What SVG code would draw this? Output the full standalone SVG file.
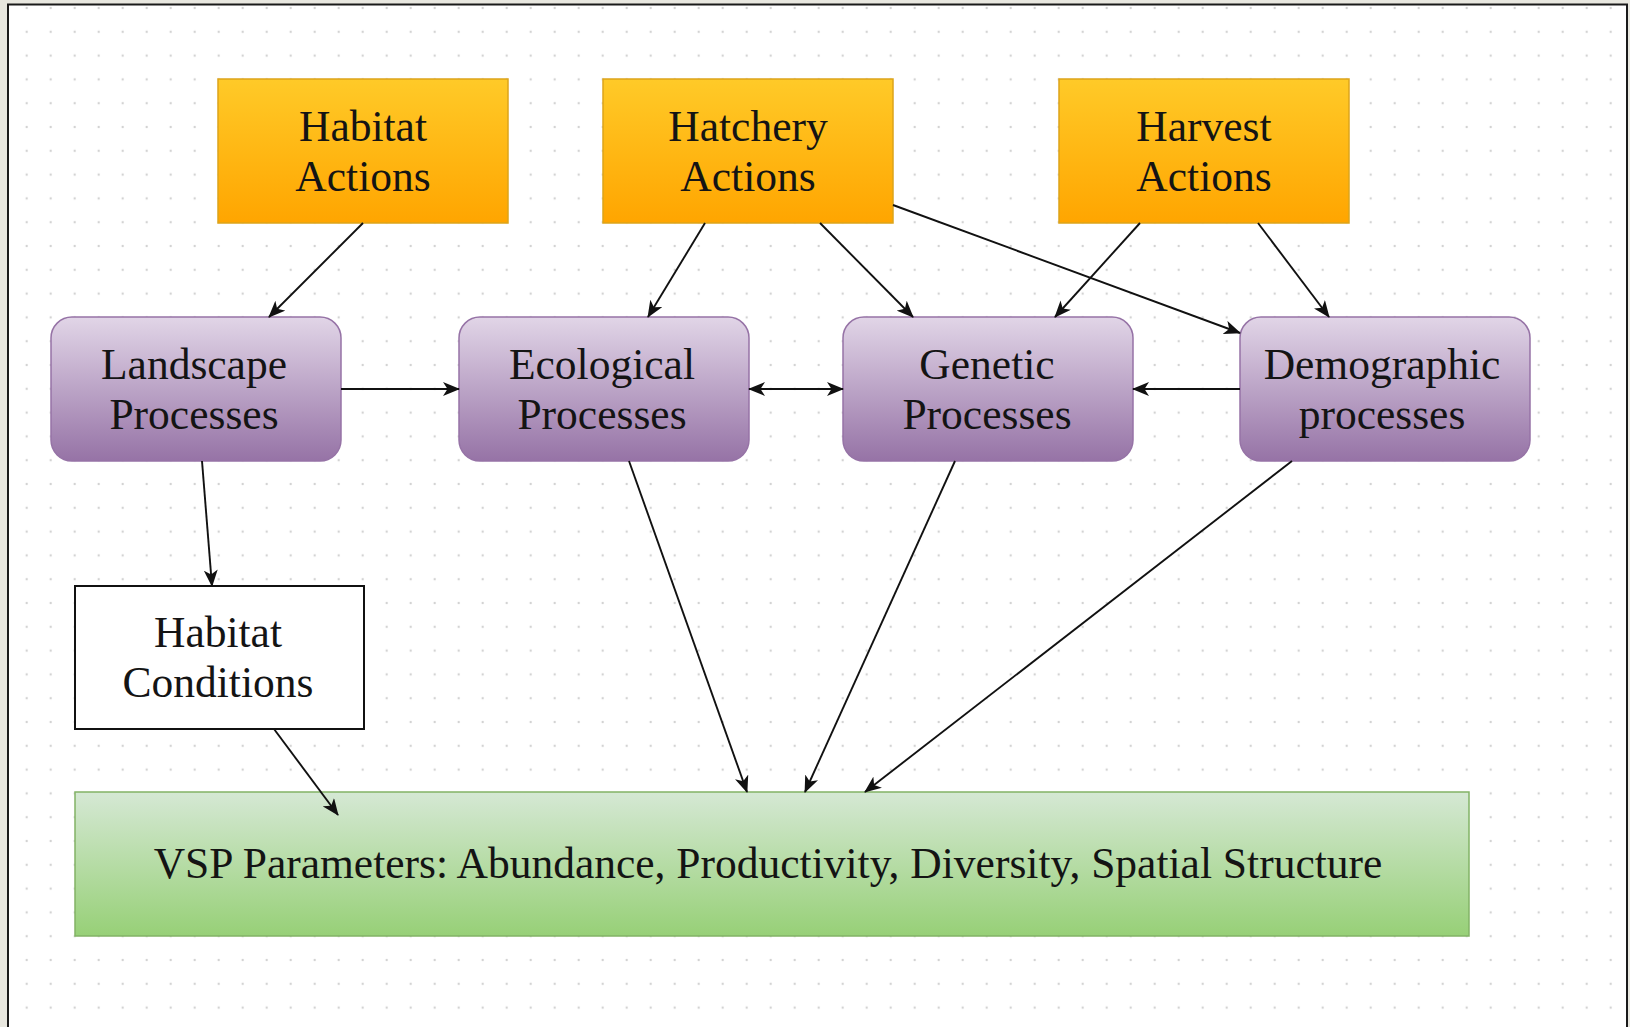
<svg xmlns="http://www.w3.org/2000/svg" width="1630" height="1027" viewBox="0 0 1630 1027">
  <style>
    .lbl { font-family: "Liberation Serif", "Times New Roman", serif; font-size: 43.5px; fill: #141414; text-anchor: middle; }
    .edge { stroke: #111; stroke-width: 1.9; fill: none; marker-end: url(#arrow); }
    .both { marker-start: url(#arrow); }
    .act { fill: url(#gOrange); stroke: #DDA41A; stroke-width: 1.5; }
    .proc { fill: url(#gPurple); stroke: #9673A6; stroke-width: 1.5; }
    .cond { fill: #FFFFFF; stroke: #111; stroke-width: 2; }
    .vsp { fill: url(#gGreen); stroke: #82B366; stroke-width: 1.5; }
  </style>
  <defs>
    <linearGradient id="gOrange" x1="0" y1="0" x2="0" y2="1">
      <stop offset="0" stop-color="#FFCA28"/>
      <stop offset="1" stop-color="#FFA500"/>
    </linearGradient>
    <linearGradient id="gPurple" x1="0" y1="0" x2="0" y2="1">
      <stop offset="0" stop-color="#E1D5E7"/>
      <stop offset="1" stop-color="#9673A6"/>
    </linearGradient>
    <linearGradient id="gGreen" x1="0" y1="0" x2="0" y2="1">
      <stop offset="0" stop-color="#D5E8D4"/>
      <stop offset="1" stop-color="#97D077"/>
    </linearGradient>
    <pattern id="dots" patternUnits="userSpaceOnUse" x="14.7" y="-3.9" width="24" height="23.8">
      <circle cx="12" cy="11.9" r="1.2" fill="#D2D2D2"/>
    </pattern>
    <marker id="arrow" viewBox="0 0 17 14" refX="16" refY="7" markerWidth="17" markerHeight="14" markerUnits="userSpaceOnUse" orient="auto-start-reverse">
      <path d="M0,0 L17,7 L0,14 L4.5,7 Z" fill="#111"/>
    </marker>
  </defs>

  <g id="background">
    <rect x="0" y="0" width="1630" height="1027" fill="#E8E7DF"/>
    <rect x="8" y="4.5" width="1619" height="1023" fill="#FFFFFF"/>
    <rect x="9" y="6" width="1617" height="1021" fill="url(#dots)"/>
    <path d="M8,1027 V4.5 H1627 V1027" fill="none" stroke="#1A1A1A" stroke-width="2"/>
  </g>

  <g id="habitat-actions">
    <rect class="act" x="218" y="79" width="290" height="144"/>
    <text class="lbl" x="363" y="141">Habitat</text>
    <text class="lbl" x="363" y="191">Actions</text>
  </g>
  <g id="hatchery-actions">
    <rect class="act" x="603" y="79" width="290" height="144"/>
    <text class="lbl" x="748" y="141">Hatchery</text>
    <text class="lbl" x="748" y="191">Actions</text>
  </g>
  <g id="harvest-actions">
    <rect class="act" x="1059" y="79" width="290" height="144"/>
    <text class="lbl" x="1204" y="141">Harvest</text>
    <text class="lbl" x="1204" y="191">Actions</text>
  </g>

  <g id="landscape-processes">
    <rect class="proc" x="51" y="317" width="290" height="144" rx="21" ry="21"/>
    <text class="lbl" x="194" y="379">Landscape</text>
    <text class="lbl" x="194" y="429">Processes</text>
  </g>
  <g id="ecological-processes">
    <rect class="proc" x="459" y="317" width="290" height="144" rx="21" ry="21"/>
    <text class="lbl" x="602" y="379">Ecological</text>
    <text class="lbl" x="602" y="429">Processes</text>
  </g>
  <g id="genetic-processes">
    <rect class="proc" x="843" y="317" width="290" height="144" rx="21" ry="21"/>
    <text class="lbl" x="987" y="379">Genetic</text>
    <text class="lbl" x="987" y="429">Processes</text>
  </g>
  <g id="demographic-processes">
    <rect class="proc" x="1240" y="317" width="290" height="144" rx="21" ry="21"/>
    <text class="lbl" x="1382" y="379">Demographic</text>
    <text class="lbl" x="1382" y="429">processes</text>
  </g>

  <g id="habitat-conditions">
    <rect class="cond" x="75" y="586" width="289" height="143"/>
    <text class="lbl" x="218" y="647">Habitat</text>
    <text class="lbl" x="218" y="697">Conditions</text>
  </g>

  <g id="vsp-parameters">
    <rect class="vsp" x="75" y="792" width="1394" height="144"/>
    <text class="lbl" x="768" y="878">VSP Parameters: Abundance, Productivity, Diversity, Spatial Structure</text>
  </g>

  <g id="connectors">
    <line class="edge" x1="363" y1="223" x2="269" y2="317"/>
    <line class="edge" x1="705" y1="223" x2="648" y2="317"/>
    <line class="edge" x1="820" y1="223" x2="913" y2="317"/>
    <line class="edge" x1="893" y1="205" x2="1240" y2="333"/>
    <line class="edge" x1="1140" y1="223" x2="1055" y2="317"/>
    <line class="edge" x1="1258" y1="223" x2="1329" y2="317"/>
    <line class="edge" x1="341" y1="389" x2="459" y2="389"/>
    <line class="edge both" x1="749" y1="389" x2="843" y2="389"/>
    <line class="edge" x1="1240" y1="389" x2="1133" y2="389"/>
    <line class="edge" x1="202" y1="461" x2="212" y2="586"/>
    <line class="edge" x1="274" y1="729" x2="338" y2="815"/>
    <line class="edge" x1="629" y1="461" x2="747" y2="792"/>
    <line class="edge" x1="955" y1="461" x2="805" y2="792"/>
    <line class="edge" x1="1292" y1="461" x2="865" y2="792"/>
  </g>
</svg>
